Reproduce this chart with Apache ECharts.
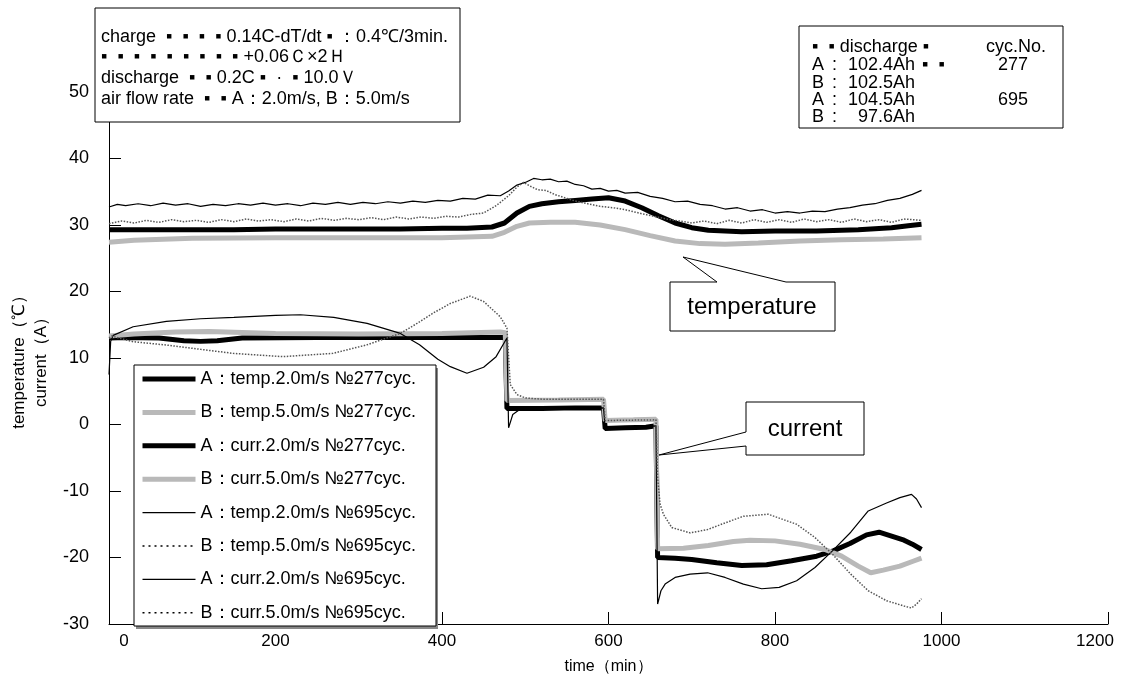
<!DOCTYPE html>
<html><head><meta charset="utf-8">
<script src="https://cdn.jsdelivr.net/npm/echarts@6/dist/echarts.min.js"></script>
<style>html,body{margin:0;padding:0;background:#fff}#c{width:1121px;height:684px}</style>
</head><body><div id="c"></div>
<script>
// ---- tick labels / axis ranges ----
var xTicks = [0, 200, 400, 600, 800, 1000, 1200];
var yTicks = [-30, -20, -10, 0, 10, 20, 30, 40, 50];

// ---- series names ----
var names = [
  'A：temp.2.0m/s №277cyc.',
  'B：temp.5.0m/s №277cyc.',
  'A：curr.2.0m/s №277cyc.',
  'B：curr.5.0m/s №277cyc.',
  'A：temp.2.0m/s №695cyc.',
  'B：temp.5.0m/s №695cyc.',
  'A：curr.2.0m/s №695cyc.',
  'B：curr.5.0m/s №695cyc.'
];

// ---- temperature, 277 cycles ----
var tA277t = [0,50,100,150,200,250,300,350,400,430,460,475,490,505,520,540,560,580,600,620,640,660,680,700,720,740,760,800,850,900,940,960,976];
var vA277t = [29.3,29.3,29.3,29.3,29.4,29.4,29.4,29.4,29.5,29.5,29.7,30.3,31.8,32.8,33.2,33.5,33.7,33.9,34.1,33.6,32.6,31.4,30.3,29.6,29.2,29.1,29.0,29.1,29.1,29.3,29.6,29.9,30.1];
var tB277t = [0,30,100,200,300,400,460,475,490,505,530,560,590,620,650,680,710,740,780,830,880,930,976];
var vB277t = [27.4,27.7,28.0,28.1,28.1,28.1,28.3,28.9,29.8,30.3,30.4,30.4,30.0,29.3,28.4,27.6,27.2,27.1,27.3,27.6,27.8,27.9,28.1];

// ---- current, 277 cycles ----
var tA277c = [0,20,60,90,110,130,160,250,350,420,476,478,520,560,594,596,620,645,657,659,680,700,730,760,790,820,850,870,890,910,925,940,955,965,976];
var vA277c = [13.0,13.1,13.0,12.6,12.5,12.6,13.0,13.1,13.1,13.1,13.1,2.4,2.4,2.5,2.5,-0.6,-0.5,-0.4,-0.2,-20.0,-20.1,-20.3,-20.8,-21.2,-21.1,-20.5,-19.8,-19.0,-17.9,-16.6,-16.2,-16.8,-17.4,-18.0,-18.8];
var tB277c = [0,30,80,120,200,300,400,470,476,478,540,594,596,630,657,659,690,720,750,770,800,830,860,880,900,915,930,950,965,976];
var vB277c = [13.3,13.6,13.9,14.0,13.7,13.6,13.7,13.9,13.8,3.6,3.7,3.8,0.6,0.7,0.8,-18.7,-18.6,-18.2,-17.6,-17.4,-17.5,-18.0,-18.8,-19.8,-21.3,-22.3,-21.9,-21.3,-20.6,-20.1];

// ---- temperature, 695 cycles ----
var tA695t = [0,10,20,35,50,65,80,95,110,125,140,155,170,185,200,215,230,245,260,275,290,305,320,335,350,365,380,395,410,425,440,455,470,480,490,500,510,520,530,540,550,560,570,580,590,600,610,620,635,650,665,680,695,710,725,740,755,770,785,800,815,830,845,860,875,890,905,920,935,950,965,976];
var vA695t = [32.7,33.1,32.9,33.2,32.9,33.3,33.0,33.2,32.8,33.1,32.9,33.2,33.0,33.3,33.0,33.2,32.9,33.3,33.1,33.4,33.1,33.4,33.2,33.5,33.3,33.6,33.4,33.7,33.6,34.0,33.9,34.5,34.4,35.1,36.0,36.4,37.0,36.8,36.9,36.5,36.6,36.1,35.9,35.4,35.5,35.1,35.2,34.8,34.9,34.3,34.0,33.5,33.6,33.1,32.9,32.4,32.6,32.1,32.3,31.8,32.0,31.8,32.1,32.0,32.4,32.6,33.0,33.2,33.7,34.0,34.6,35.2];
var tB695t = [0,15,30,45,60,75,90,105,120,135,150,165,180,195,210,225,240,255,270,285,300,315,330,345,360,375,390,405,420,435,450,465,480,490,498,505,515,525,535,545,560,575,590,605,620,640,655,670,685,700,715,730,745,760,775,790,805,820,835,850,865,880,895,910,925,940,955,976];
var vB695t = [30.2,30.6,30.3,30.7,30.4,30.8,30.5,30.7,30.4,30.8,30.5,30.9,30.6,30.8,30.5,30.9,30.6,31.0,30.7,31.0,30.8,31.1,30.8,31.2,30.9,31.2,31.0,31.3,31.2,31.6,31.8,32.9,34.4,35.7,36.4,35.9,35.3,35.2,34.6,34.2,33.6,33.2,32.8,32.6,32.3,31.7,31.3,30.9,30.6,30.3,30.6,30.2,30.7,30.3,30.8,30.4,30.8,30.4,30.9,30.5,30.8,30.4,30.9,30.5,30.8,30.4,30.9,30.7];

// ---- current, 695 cycles ----
var tA695c = [0,2,5,29,69,110,150,200,230,270,310,350,373,395,410,430,450,465,478,480,485,495,594,596,657,659,663,668,680,698,719,740,762,784,805,826,848,869,891,912,934,950,964,970,976];
var vA695c = [7.5,12.5,13.4,14.7,15.5,15.9,16.1,16.4,16.5,16.1,15.2,13.7,12.0,9.8,8.7,7.7,8.6,10.2,13.0,-0.5,1.5,2.4,2.5,-0.5,-0.2,-27.0,-25.0,-24.0,-23.0,-22.5,-22.3,-23.0,-24.0,-24.7,-24.5,-23.5,-21.5,-19.0,-16.2,-13.0,-11.8,-11.0,-10.5,-11.2,-12.5];
var tB695c = [0,3,29,69,110,149,209,269,309,350,370,390,410,434,450,470,478,482,490,500,520,594,596,657,659,662,666,676,698,719,740,762,792,826,848,869,891,912,934,955,964,970,976];
var vB695c = [13.0,13.3,12.45,11.95,11.3,10.7,10.2,10.7,11.95,13.7,15.2,16.8,18.2,19.3,18.5,16.2,14.5,6.0,4.5,4.0,3.8,3.8,0.6,0.7,-8.0,-12.0,-13.5,-15.5,-16.3,-15.8,-14.8,-13.8,-13.5,-15.0,-17.0,-19.5,-22.5,-25.0,-26.5,-27.3,-27.6,-27.0,-26.2];

function pairs(t, v) { return t.map(function (x, i) { return [x, v[i]]; }); }

var FONT = '"Liberation Sans", Arial, Helvetica, sans-serif';
var styles = [
  {color: '#000', width: 5, type: 'solid'},
  {color: '#b9b9b9', width: 5, type: 'solid'},
  {color: '#000', width: 5, type: 'solid'},
  {color: '#b9b9b9', width: 5, type: 'solid'},
  {color: '#000', width: 1.2, type: 'solid'},
  {color: '#555', width: 1.5, type: 'dotted'},
  {color: '#000', width: 1.2, type: 'solid'},
  {color: '#555', width: 1.5, type: 'dotted'}
];
var legendStyles = [
  {color: '#000', width: 5, type: 'solid'},
  {color: '#b9b9b9', width: 5, type: 'solid'},
  {color: '#000', width: 5, type: 'solid'},
  {color: '#b9b9b9', width: 5, type: 'solid'},
  {color: '#000', width: 1.2, type: 'solid'},
  {color: '#000', width: 1.6, type: [2, 4]},
  {color: '#000', width: 1.2, type: 'solid'},
  {color: '#000', width: 1.6, type: [2, 4]}
];
var dataSets = [
  pairs(tA277t, vA277t), pairs(tB277t, vB277t),
  pairs(tA277c, vA277c), pairs(tB277c, vB277c),
  pairs(tA695t, vA695t), pairs(tB695t, vB695t),
  pairs(tA695c, vA695c), pairs(tB695c, vB695c)
];
var drawOrder = [1, 3, 0, 2, 5, 7, 4, 6];
var series = names.map(function (n, i) {
  return {
    name: n, type: 'line', data: dataSets[i], showSymbol: false, symbol: 'none',
    lineStyle: styles[i], itemStyle: {color: styles[i].color}, z: 2 + drawOrder[i] * 0.01,
    animation: false
  };
});

function txt(x, y, s, size, align) {
  return {type: 'text', z: 60, style: {x: x, y: y, text: s, fill: '#000',
    font: size + 'px ' + FONT, textAlign: align || 'left', textVerticalAlign: 'middle'}};
}

var graphics = [
  // legend frame with shadow
  {type: 'rect', z: 3, shape: {x: 136, y: 368, width: 302, height: 261}, style: {fill: '#888', stroke: null}},
  {type: 'rect', z: 3, shape: {x: 134, y: 365, width: 302, height: 261}, style: {fill: '#fff', stroke: '#000', lineWidth: 1}},
  // top-left info box
  {type: 'rect', z: 50, shape: {x: 95, y: 8, width: 365, height: 114}, style: {fill: '#fff', stroke: '#000', lineWidth: 1}},
  txt(101, 37, 'charge  ▪  ▪  ▪  ▪ 0.14C-dT/dt ▪ ：0.4℃/3min.', 18),
  txt(101, 57, '▪  ▪  ▪  ▪  ▪  ▪  ▪  ▪  ▪ +0.06Ｃ×2Ｈ', 18),
  txt(101, 78, 'discharge  ▪  ▪ 0.2C ▪  ·  ▪ 10.0Ｖ', 18),
  txt(101, 99, 'air flow rate  ▪  ▪ A：2.0m/s, B：5.0m/s', 18),
  // top-right info box
  {type: 'rect', z: 50, shape: {x: 799, y: 26, width: 264, height: 102}, style: {fill: '#fff', stroke: '#000', lineWidth: 1}},
  txt(812, 47, '▪  ▪ discharge ▪', 18),
  txt(1016, 47, 'cyc.No.', 18, 'center'),
  txt(812, 65, 'A', 18), txt(832, 65, ':', 18), txt(915, 65, '102.4Ah', 18, 'right'), txt(922, 65, '▪  ▪', 18), txt(1013, 65, '277', 18, 'center'),
  txt(812, 83, 'B', 18), txt(832, 83, ':', 18), txt(915, 83, '102.5Ah', 18, 'right'),
  txt(812, 100, 'A', 18), txt(832, 100, ':', 18), txt(915, 100, '104.5Ah', 18, 'right'), txt(1013, 100, '695', 18, 'center'),
  txt(812, 117, 'B', 18), txt(832, 117, ':', 18), txt(915, 117, '97.6Ah', 18, 'right'),
  // "temperature" callout
  {type: 'polygon', z: 50, shape: {points: [[670, 282], [717, 282], [683, 257], [786, 282], [835, 282], [835, 331], [670, 331]]},
    style: {fill: '#fff', stroke: '#000', lineWidth: 1}},
  txt(752, 307, 'temperature', 24, 'center'),
  // "current" callout
  {type: 'polygon', z: 50, shape: {points: [[746, 402], [864, 402], [864, 455], [746, 455], [746, 446], [659, 455], [746, 432]]},
    style: {fill: '#fff', stroke: '#000', lineWidth: 1}},
  txt(805, 429, 'current', 24, 'center')
];

var chart = echarts.init(document.getElementById('c'), null, {renderer: 'canvas'});
chart.setOption({
  animation: false,
  backgroundColor: '#fff',
  grid: {left: 109, right: 13, top: 92, bottom: 60},
  xAxis: {
    type: 'value', min: xTicks[0], max: xTicks[xTicks.length - 1], interval: xTicks[1] - xTicks[0],
    axisLine: {onZero: false, lineStyle: {color: '#000', width: 1}},
    axisTick: {inside: true, length: 12, lineStyle: {color: '#000'}},
    axisLabel: {
      color: '#000', fontSize: 17, fontFamily: FONT, margin: 9,
      formatter: function (v) {
        if (v === xTicks[0]) return '{a|' + v + '}';
        if (v === xTicks[xTicks.length - 1]) return '{b|' + v + '}';
        return String(v);
      },
      rich: {
        a: {padding: [0, 0, 0, 30], fontSize: 17, fontFamily: FONT, color: '#000'},
        b: {padding: [0, 26, 0, 0], fontSize: 17, fontFamily: FONT, color: '#000'}
      }
    },
    splitLine: {show: false},
    name: 'time（min）', nameLocation: 'middle', nameGap: 35,
    nameTextStyle: {color: '#000', fontSize: 16, fontFamily: FONT}
  },
  yAxis: {
    type: 'value', min: yTicks[0], max: yTicks[yTicks.length - 1], interval: yTicks[1] - yTicks[0],
    axisLine: {show: true, onZero: false, lineStyle: {color: '#000', width: 1}},
    axisTick: {show: true, inside: true, length: 12, lineStyle: {color: '#000'}},
    axisLabel: {color: '#000', fontSize: 18, fontFamily: FONT, margin: 20},
    splitLine: {show: false},
    name: 'temperature（℃）\ncurrent（A）', nameLocation: 'middle', nameRotate: 90, nameGap: 52,
    nameTextStyle: {color: '#000', fontSize: 17, fontFamily: FONT, lineHeight: 22}
  },
  legend: {
    data: names.map(function (n, i) { return {name: n, lineStyle: legendStyles[i]}; }),
    orient: 'vertical', left: 140, top: 370, itemGap: 15.4,
    itemWidth: 53, itemHeight: 14, padding: 0, z: 10,
    itemStyle: {opacity: 0},
    textStyle: {color: '#000', fontSize: 18, fontFamily: FONT},
    selectedMode: false
  },
  graphic: graphics,
  series: series
});
</script></body></html>
